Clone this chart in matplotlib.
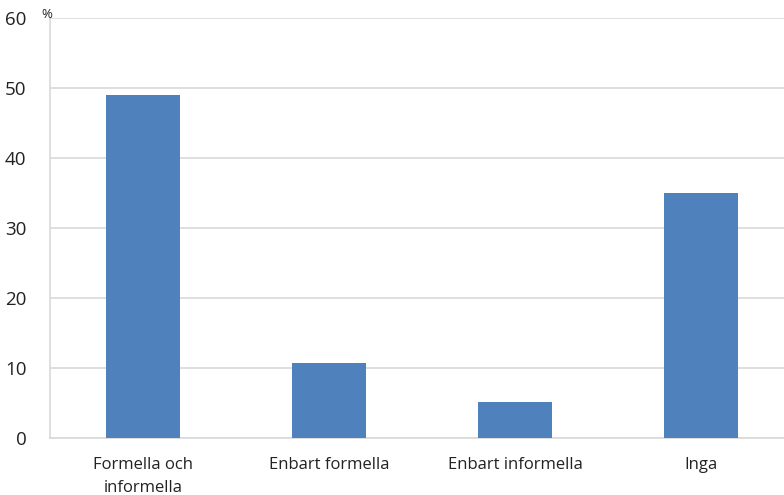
import matplotlib

matplotlib.use("Agg")
import matplotlib.pyplot as plt

categories = ["Formella och\ninformella", "Enbart formella", "Enbart informella", "Inga"]
values = [49.0, 10.7, 5.1, 35.0]
yticks = [0, 10, 20, 30, 40, 50, 60]

plt.rcParams["font.family"] = ["Open Sans", "DejaVu Sans"]

fig = plt.figure(figsize=(7.84, 4.95), dpi=100)
ax = fig.add_axes([50 / 784, 57 / 495, 734 / 784, 420 / 495])

ax.bar(range(len(categories)), values, width=0.4, color="#4f81bd", zorder=3)

ax.set_xlim(-0.5, 3.446)
ax.set_ylim(0, 60)
ax.set_yticks(yticks)
ax.set_xticks(range(len(categories)))
ax.set_xticklabels(categories, fontsize=12, color="#222222", linespacing=1.55)
ax.tick_params(axis="y", length=0, pad=17, labelsize=13.5, labelcolor="#222222")
ax.tick_params(axis="x", length=0, pad=14)

ax.yaxis.grid(True, color="#d9d9d9", linewidth=1.2, zorder=0)
ax.set_axisbelow(True)
for side in ("top", "right"):
  ax.spines[side].set_visible(False)
ax.spines["left"].set_color("#d9d9d9")
ax.spines["bottom"].set_color("#d9d9d9")
ax.spines["left"].set_linewidth(1.2)
ax.spines["bottom"].set_linewidth(1.2)

fig.text(41 / 784, 1 - 15 / 495, "%", fontsize=9.5, ha="left", va="center", color="#222222")

fig.savefig("out.png", dpi=100)
